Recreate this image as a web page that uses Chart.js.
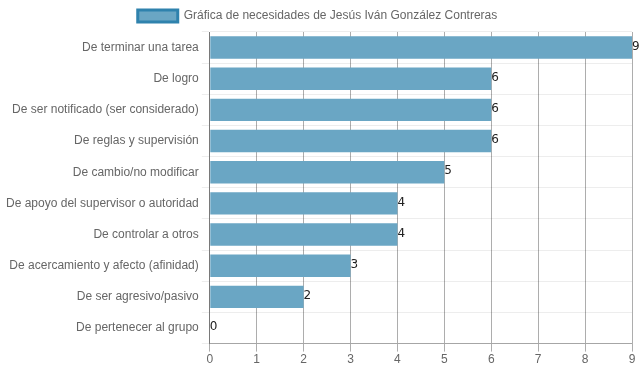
<!DOCTYPE html>
<html>
<head>
<meta charset="utf-8">
<script src="https://cdn.jsdelivr.net/npm/chart.js@4/dist/chart.umd.min.js"></script>
<style>
  html, body { margin: 0; padding: 0; background: #fff; }
  #wrap { width: 639px; height: 372px; }
</style>
</head>
<body>
<div id="wrap"><canvas id="needsChart"></canvas></div>
<script>
// --- Data ---
const categories = [
    "De terminar una tarea",
    "De logro",
    "De ser notificado (ser considerado)",
    "De reglas y supervisión",
    "De cambio/no modificar",
    "De apoyo del supervisor o autoridad",
    "De controlar a otros",
    "De acercamiento y afecto (afinidad)",
    "De ser agresivo/pasivo",
    "De pertenecer al grupo"
];
const values = [9, 6, 6, 6, 5, 4, 4, 3, 2, 0];
const seriesName = "Gráfica de necesidades de Jesús Iván González Contreras";
const xTicks = [0, 1, 2, 3, 4, 5, 6, 7, 8, 9];

Chart.defaults.font.family = "'Liberation Sans', Arial, sans-serif";
Chart.defaults.font.size = 12;
Chart.defaults.color = "#666";

// Value labels at bar ends
const valueLabels = {
    id: "valueLabels",
    afterDatasetsDraw(chart) {
        const ctx = chart.ctx;
        const meta = chart.getDatasetMeta(0);
        ctx.save();
        ctx.fillStyle = "#222";
        ctx.font = "12px 'DejaVu Sans', sans-serif";
        ctx.textAlign = "left";
        ctx.textBaseline = "middle";
        meta.data.forEach(function (bar, i) {
            ctx.fillText(values[i], bar.x, bar.y - 1);
        });
        ctx.restore();
    }
};

new Chart(document.getElementById("needsChart"), {
    type: "bar",
    data: {
        labels: categories,
        datasets: [{
            label: seriesName,
            data: values,
            backgroundColor: "rgba(106, 166, 196, 1)",
            borderColor: "#2f82ad",
            borderWidth: 0
        }]
    },
    options: {
        indexAxis: "y",
        responsive: true,
        maintainAspectRatio: false,
        animation: false,
        layout: { padding: { left: 3, right: 7, bottom: 4 } },
        plugins: {
            legend: {
                labels: {
                    boxWidth: 40,
                    boxHeight: 12,
                    generateLabels(chart) {
                        const ds = chart.data.datasets[0];
                        return [{
                            text: ds.label,
                            fillStyle: ds.backgroundColor,
                            strokeStyle: ds.borderColor,
                            lineWidth: 3,
                            datasetIndex: 0,
                            fontColor: "#666"
                        }];
                    }
                }
            },
            tooltip: { enabled: false }
        },
        scales: {
            x: {
                min: 0,
                max: 9,
                afterBuildTicks(axis) {
                    axis.ticks = xTicks.map(v => ({ value: v }));
                },
                grid: { color: "rgba(0,0,0,0.32)" },
                border: { color: "rgba(0,0,0,0.3)" },
                ticks: { color: "#666", padding: 1 }
            },
            y: {
                grid: { color: "rgba(0,0,0,0.07)" },
                border: { color: "rgba(0,0,0,0.3)" },
                ticks: { color: "#666" }
            }
        }
    },
    plugins: [valueLabels]
});
</script>
</body>
</html>
